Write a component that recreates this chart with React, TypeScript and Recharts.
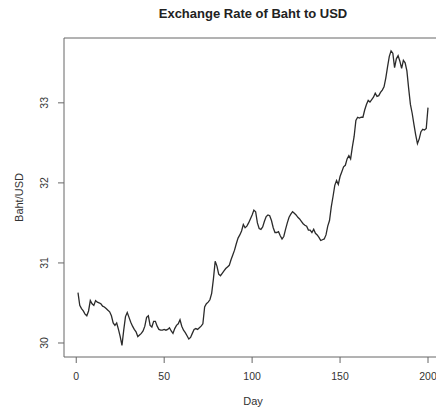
import { LineChart, Line, XAxis, YAxis, ReferenceArea } from "recharts";

// Daily Baht per USD rate, days 1..200
const rates = [
  30.63, 30.47, 30.43, 30.4, 30.36, 30.34, 30.4, 30.53, 30.49, 30.47,
  30.53, 30.51, 30.5, 30.49, 30.46, 30.45, 30.43, 30.41, 30.39, 30.34,
  30.25, 30.22, 30.25, 30.17, 30.08, 29.97, 30.16, 30.33, 30.38, 30.32,
  30.26, 30.21, 30.17, 30.14, 30.08, 30.1, 30.12, 30.15, 30.21, 30.32,
  30.34, 30.22, 30.2, 30.27, 30.27, 30.21, 30.17, 30.16, 30.16, 30.17,
  30.16, 30.17, 30.19, 30.15, 30.12, 30.18, 30.22, 30.24, 30.29, 30.21,
  30.16, 30.13, 30.09, 30.05, 30.07, 30.12, 30.17, 30.18, 30.17, 30.19,
  30.21, 30.24, 30.45, 30.49, 30.51, 30.54, 30.62, 30.8, 31.02, 30.96,
  30.86, 30.84, 30.87, 30.9, 30.93, 30.95, 30.97, 31.04, 31.1, 31.16,
  31.24, 31.31, 31.35, 31.4, 31.48, 31.44, 31.46, 31.5, 31.55, 31.6,
  31.66, 31.64, 31.5, 31.43, 31.42, 31.45, 31.52, 31.58, 31.6, 31.59,
  31.53, 31.44, 31.38, 31.38, 31.39, 31.34, 31.3, 31.33, 31.42, 31.5,
  31.57, 31.61, 31.64, 31.62, 31.6, 31.57, 31.55, 31.52, 31.49, 31.47,
  31.46, 31.41, 31.41, 31.38, 31.42, 31.37, 31.35, 31.32, 31.28, 31.29,
  31.3, 31.35, 31.46, 31.53, 31.7, 31.83, 31.97, 32.03, 31.98, 32.08,
  32.14, 32.2, 32.22, 32.3, 32.34, 32.3, 32.45, 32.58, 32.78, 32.82,
  32.81, 32.82, 32.82, 32.91, 32.98, 33.03, 33.01, 33.04, 33.07, 33.12,
  33.08, 33.09, 33.13, 33.16, 33.2, 33.31, 33.45, 33.58, 33.65, 33.62,
  33.44, 33.55, 33.59, 33.52, 33.43, 33.53, 33.5, 33.4, 33.18, 32.98,
  32.87, 32.73, 32.6, 32.49, 32.55, 32.64, 32.67, 32.66, 32.68, 32.94,
];

const dayTicks = [0, 50, 100, 150, 200];
const rateTicks = [30, 31, 32, 33];

const data = rates.map((rate, i) => ({ day: i + 1, rate }));

// R-style padded ranges (4% each side)
const X_DOMAIN = [-6.96, 207.96];
const Y_DOMAIN = [29.825, 33.81];

const FONT = "'Liberation Sans', Arial, sans-serif";

const XTick = ({ x, y, payload }: any) => (
  <text x={x} y={y + 15} textAnchor="middle" fontSize={10.5} fill="#333" fontFamily={FONT}>
    {payload.value}
  </text>
);

const YTick = ({ x, y, payload }: any) => {
  const cx = x - 12;
  return (
    <text
      x={cx}
      y={y}
      dy="0.35em"
      transform={`rotate(-90, ${cx}, ${y})`}
      textAnchor="middle"
      fontSize={10.5}
      fill="#333"
      fontFamily={FONT}
    >
      {payload.value}
    </text>
  );
};

export default function App() {
  return (
    <div
      style={{
        position: "absolute",
        left: 0,
        top: 0,
        width: 436,
        height: 410,
        overflow: "hidden",
        background: "#fff",
      }}
    >
      <div
        style={{
          position: "absolute",
          left: 103,
          top: 5,
          width: 300,
          textAlign: "center",
          fontFamily: FONT,
          fontWeight: "bold",
          fontSize: 13,
          lineHeight: "18px",
          color: "#222",
        }}
      >
        Exchange Rate of Baht to USD
      </div>
      <LineChart
        width={450}
        height={410}
        data={data}
        margin={{ top: 38, right: 8, bottom: 0, left: 0 }}
      >
        <XAxis
          dataKey="day"
          type="number"
          domain={X_DOMAIN}
          ticks={dayTicks}
          interval={0}
          allowDataOverflow
          axisLine={false}
          tickLine={{ stroke: "#666" }}
          tickSize={6}
          height={53}
          tick={<XTick />}
          label={{
            value: "Day",
            position: "insideBottom",
            offset: 5,
            style: { fontSize: 11, fill: "#333", fontFamily: FONT },
          }}
        />
        <YAxis
          type="number"
          domain={Y_DOMAIN}
          ticks={rateTicks}
          interval={0}
          allowDataOverflow
          axisLine={false}
          tickLine={{ stroke: "#666" }}
          tickSize={6}
          width={64}
          tick={<YTick />}
          label={{
            value: "Baht/USD",
            angle: -90,
            position: "insideLeft",
            offset: 19,
            style: { fontSize: 11, fill: "#333", fontFamily: FONT, textAnchor: "middle" },
          }}
        />
        <ReferenceArea
          x1={X_DOMAIN[0]}
          x2={X_DOMAIN[1]}
          y1={Y_DOMAIN[0]}
          y2={Y_DOMAIN[1]}
          fill="none"
          stroke="#666"
          strokeWidth={1}
        />
        <Line
          type="linear"
          dataKey="rate"
          stroke="#2b2b2b"
          strokeWidth={1.3}
          dot={false}
          isAnimationActive={false}
        />
      </LineChart>
    </div>
  );
}
